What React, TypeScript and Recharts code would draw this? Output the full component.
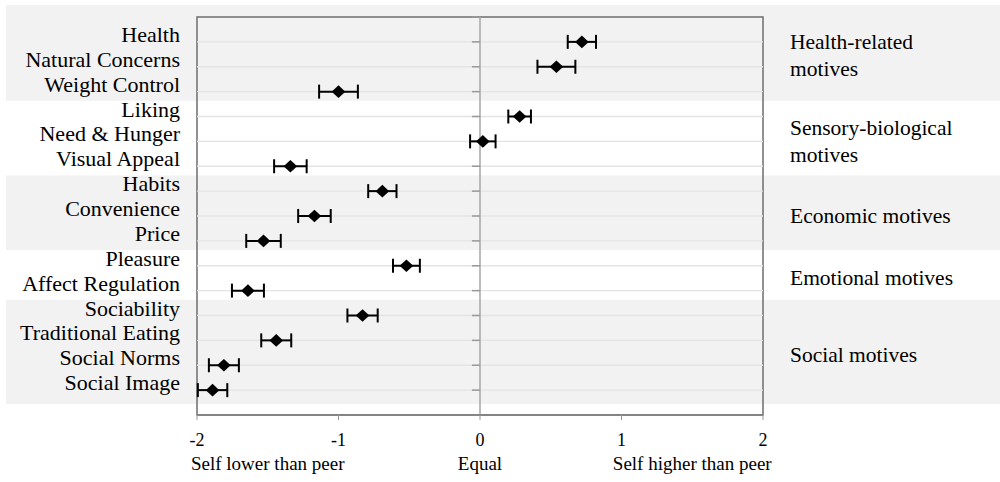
import { ScatterChart, Scatter, XAxis, YAxis, ErrorBar, ReferenceArea, ReferenceLine } from 'recharts';

// motives, top to bottom
const motives = [
  'Health',
  'Natural Concerns',
  'Weight Control',
  'Liking',
  'Need & Hunger',
  'Visual Appeal',
  'Habits',
  'Convenience',
  'Price',
  'Pleasure',
  'Affect Regulation',
  'Sociability',
  'Traditional Eating',
  'Social Norms',
  'Social Image',
];

// self minus peer rating
const scores = [0.72, 0.54, -1.0, 0.28, 0.02, -1.34, -0.69, -1.17, -1.53, -0.52, -1.64, -0.83, -1.44, -1.81, -1.89];
const errors = [0.1, 0.134, 0.137, 0.08, 0.09, 0.115, 0.1, 0.115, 0.122, 0.095, 0.113, 0.107, 0.106, 0.106, 0.104];

const groupNames = [
  ['Health-related', 'motives'],
  ['Sensory-biological', 'motives'],
  ['Economic motives'],
  ['Emotional motives'],
  ['Social motives'],
];
const groupSizes = [3, 3, 3, 2, 4];

const xTicks = [-2, -1, 0, 1, 2];
const scaleLabels = ['Self lower than peer', 'Equal', 'Self higher than peer'];
const scaleLabelAt = [-1.5, 0, 1.5];

const FONT = '"Liberation Serif", "Times New Roman", serif';

const points = motives.map((name, i) => ({ name, row: i, score: scores[i], err: errors[i] }));
const rows = motives.map((_, i) => i);
const axisTicks = [-1, ...rows, motives.length];

// band edges in row units: a little above the midpoint between groups
const bandEdges = (() => {
  const edges = [-1.48];
  let end = -1;
  groupSizes.forEach((n, i) => {
    end += n;
    edges.push(i === groupSizes.length - 1 ? end + 0.56 : end + 0.37);
  });
  return edges;
})();

const RowTick = (props: any) => {
  const { x, y, payload } = props;
  return (
    <text x={x - 17} y={y} textAnchor="end" fontFamily={FONT} fontSize={22} fill="#000">
      {motives[payload.value]}
    </text>
  );
};

// group name to the right of the plot, centred on its band
const GroupLabel = (props: any) => {
  const { viewBox, lines } = props;
  if (!viewBox) return null;
  const x = viewBox.x + 27;
  const cy = viewBox.y + viewBox.height / 2;
  const n = lines.length;
  return (
    <text x={x} y={cy} textAnchor="start" fontFamily={FONT} fontSize={21.5} fill="#000">
      {lines.map((l: string, i: number) => (
        <tspan key={i} x={x} y={cy + 10 + (i - (n - 1) / 2) * 27}>
          {l}
        </tspan>
      ))}
    </text>
  );
};

// description under the x axis numbers
const ScaleLabel = (props: any) => {
  const { viewBox, text } = props;
  if (!viewBox) return null;
  return (
    <text
      x={viewBox.x + viewBox.width / 2}
      y={viewBox.y + viewBox.height - 12}
      textAnchor="middle"
      fontFamily={FONT}
      fontSize={19}
      fill="#000"
    >
      {text}
    </text>
  );
};

const Diamond = (props: any) => {
  const { cx, cy } = props;
  const w = 6.8;
  const h = 6.3;
  return <path d={`M${cx},${cy - h}L${cx + w},${cy}L${cx},${cy + h}L${cx - w},${cy}Z`} fill="#000" />;
};

export default function App() {
  return (
    <div style={{ position: 'absolute', left: 0, top: 0, width: 1000, height: 482, background: '#fff' }}>
      <ScatterChart width={1000} height={482} margin={{ top: 17, right: 237, bottom: 0, left: 0 }}>
        <XAxis
          type="number"
          dataKey="score"
          domain={[-2, 2]}
          ticks={xTicks}
          interval={0}
          height={67}
          axisLine={{ stroke: '#808080', strokeWidth: 1.5 }}
          tickLine={{ stroke: '#9a9a9a' }}
          tickSize={5}
          tickMargin={13}
          tick={{ fontFamily: FONT, fontSize: 18, fill: '#000' }}
        />
        <YAxis
          type="number"
          dataKey="row"
          domain={[-1, motives.length]}
          reversed
          ticks={rows}
          interval={0}
          width={197}
          axisLine={false}
          tickLine={false}
          tickSize={0}
          tickMargin={0}
          tick={<RowTick />}
        />

        {groupSizes.map((_, i) =>
          i % 2 === 0 ? (
            <ReferenceArea
              key={`band-${i}`}
              x1={-3.35}
              x2={3.7}
              y1={bandEdges[i]}
              y2={bandEdges[i + 1]}
              ifOverflow="visible"
              fill="#f2f2f2"
              fillOpacity={1}
              stroke="none"
            />
          ) : null
        )}

        {rows.map((r) => (
          <ReferenceLine key={`grid-${r}`} y={r} stroke="#e4e4e4" strokeWidth={1.3} />
        ))}

        <ReferenceLine x={0} stroke="#a6a6a6" strokeWidth={1.5} />
        {axisTicks.map((r) => (
          <ReferenceLine
            key={`ytick-${r}`}
            segment={[{ x: -0.057, y: r }, { x: 0, y: r }]}
            stroke="#999999"
            strokeWidth={1.5}
            ifOverflow="visible"
          />
        ))}
        <ReferenceArea
          x1={-2}
          x2={2}
          y1={-1}
          y2={motives.length}
          fill="none"
          fillOpacity={0}
          stroke="#6e6e6e"
          strokeWidth={1.5}
          ifOverflow="visible"
        />

        {groupNames.map((lines, i) => (
          <ReferenceArea
            key={`glabel-${i}`}
            x1={2}
            x2={3.7}
            y1={bandEdges[i]}
            y2={bandEdges[i + 1]}
            ifOverflow="visible"
            fill="none"
            fillOpacity={0}
            stroke="none"
            label={<GroupLabel lines={lines} />}
          />
        ))}

        {scaleLabels.map((text, i) => (
          <ReferenceArea
            key={`slabel-${i}`}
            x1={scaleLabelAt[i] - 0.5}
            x2={scaleLabelAt[i] + 0.5}
            y1={motives.length}
            y2={motives.length + 2.7}
            ifOverflow="visible"
            fill="none"
            fillOpacity={0}
            stroke="none"
            label={<ScaleLabel text={text} />}
          />
        ))}

        <Scatter data={points} dataKey="score" shape={<Diamond />} isAnimationActive={false}>
          <ErrorBar dataKey="err" direction="x" width={7} strokeWidth={2} stroke="#000" isAnimationActive={false} />
        </Scatter>
      </ScatterChart>
    </div>
  );
}
